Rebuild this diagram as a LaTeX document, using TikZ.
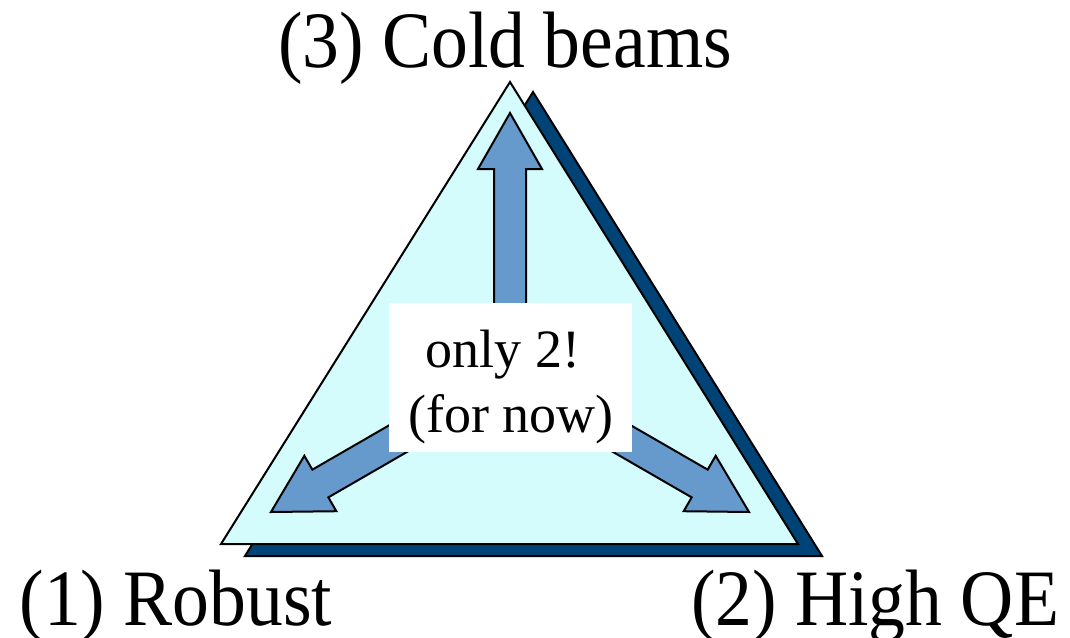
\documentclass[tikz,border=0pt]{standalone}
\usepackage{fontspec}
\setmainfont{Liberation Serif}
\newfontfamily\cornerfont[FakeStretch=0.92]{Liberation Serif}
\usepackage{tikz}
\usetikzlibrary{calc, positioning}
\usepackage{xcolor}
\definecolor{tricyan}{HTML}{D4FCFC}
\definecolor{shadowblue}{HTML}{004477}
\definecolor{arrowblue}{HTML}{6699CC}

\begin{document}
\begin{tikzpicture}[
    x=0.5pt, y=-0.5pt,
    shadowtri/.style={draw=black, fill=shadowblue, line width=1pt, line join=miter},
    maintri/.style={draw=black, fill=tricyan, line width=1pt, line join=miter},
    fatarrow/.style={draw=black, fill=arrowblue, line width=1pt, line join=miter},
    notebox/.style={rectangle, fill=white, inner sep=0pt, minimum width=121.5pt, minimum height=74.5pt},
    notetext/.style={anchor=base, inner sep=0pt, font=\fontsize{27}{32}\selectfont},
    corner/.style={anchor=base, inner sep=0pt, font=\cornerfont\fontsize{40}{48}\selectfont}
]
    \useasboundingbox (0,0) rectangle (1070,637);

    % Triangle corners
    \coordinate (top) at (510,82);
    \coordinate (left) at (221,544);
    \coordinate (right) at (798,544);
    \coordinate (hub) at (510,374);

    % Shadow and triangle
    \draw[shadowtri] ($(left)+(24,12)$) -- ($(right)+(24,12)$) -- ($(top)+(23,10)$) -- cycle;
    \draw[maintri] (left) -- (right) -- (top) -- cycle;

    % Arrows from the middle to the corners
    \draw[fatarrow, shift={(hub)}] (-16,0) -- (-16,-205) -- (-32,-205) -- (0,-261) -- (32,-205) -- (16,-205) -- (16,0) -- cycle;
    \draw[fatarrow, shift={(hub)}, rotate=120] (-16,0) -- (-16,-219) -- (-32,-219) -- (0,-276) -- (32,-219) -- (16,-219) -- (16,0) -- cycle;
    \draw[fatarrow, shift={(hub)}, rotate=-120] (-16,0) -- (-16,-219) -- (-32,-219) -- (0,-276) -- (32,-219) -- (16,-219) -- (16,0) -- cycle;

    % Note in the middle
    \node[notebox] (note) at (510.5,377.5) {};
    \node[notetext] (only) at (503,367) {only 2!};
    \node[notetext] (fornow) at (511,432) {(for now)};

    % Corner labels
    \node[corner] (cold) at (505,67) {(3) Cold beams};
    \node[corner] (robust) at (176,625) {(1) Robust};
    \node[corner] (highqe) at (875,625) {(2) High QE};
\end{tikzpicture}
\end{document}
